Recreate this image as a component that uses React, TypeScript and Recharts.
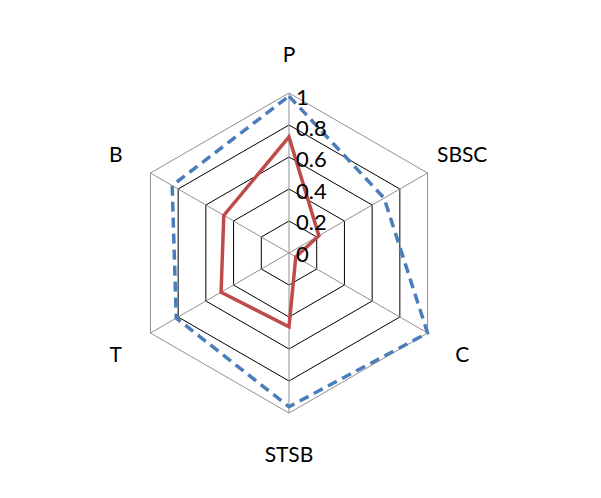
import React from 'react';
import { RadarChart, Radar, PolarGrid, PolarAngleAxis, PolarRadiusAxis } from 'recharts';

const categories = ['P', 'SBSC', 'C', 'STSB', 'T', 'B'];
const seriesA = [1, 0.7, 1.02, 0.98, 0.83, 0.86];
const seriesB = [0.74, 0.22, 0.05, 0.47, 0.5, 0.48];
const radiusTicks = [0, 0.2, 0.4, 0.6, 0.8, 1];

const data = categories.map((c, i) => ({ cat: c, a: seriesA[i], b: seriesB[i] }));

const CX = 281, CY = 245;

const AngleTick = (props: any) => {
  const { x, y, payload } = props;
  const dx = x - CX, dy = y - CY;
  const d = Math.sqrt(dx * dx + dy * dy) || 1;
  const r = 200;
  const tx = CX + (dx / d) * r;
  const ty = CY + (dy / d) * r;
  return (
    <text x={tx} y={ty} textAnchor="middle" dominantBaseline="central" fontSize={21} fill="#000" fontFamily="Lato, 'Open Sans', sans-serif">
      {payload.value}
    </text>
  );
};

const RadTick = (props: any) => {
  const { x, y, payload } = props;
  return (
    <text x={x + 7} y={y} textAnchor="start" dominantBaseline="central" fontSize={22} fill="#000" fontFamily="Lato, 'Open Sans', sans-serif">
      {payload.value}
    </text>
  );
};

export default function App() {
  return (
    <RadarChart width={585} height={490} data={data} cx={CX} cy={CY} outerRadius={160} margin={{ top: 0, right: 0, bottom: 0, left: 0 }}>
      <PolarGrid gridType="polygon" stroke="#000" radialLines={false} polarRadius={[32, 64, 96, 128]} />
      <PolarGrid gridType="polygon" stroke="#909090" polarRadius={[160]} />
      <PolarAngleAxis dataKey="cat" tick={<AngleTick />} tickLine={false} axisLine={false} />
      <PolarRadiusAxis angle={90} domain={[0, 1]} ticks={radiusTicks as any} tick={<RadTick />} axisLine={false} tickLine={false} />
      <Radar dataKey="a" stroke="#4a7ebb" strokeWidth={3.5} strokeDasharray="10 6" fill="none" fillOpacity={0} isAnimationActive={false} dot={false} />
      <Radar dataKey="b" stroke="#be4b48" strokeWidth={3.5} fill="none" fillOpacity={0} isAnimationActive={false} dot={false} />
    </RadarChart>
  );
}
